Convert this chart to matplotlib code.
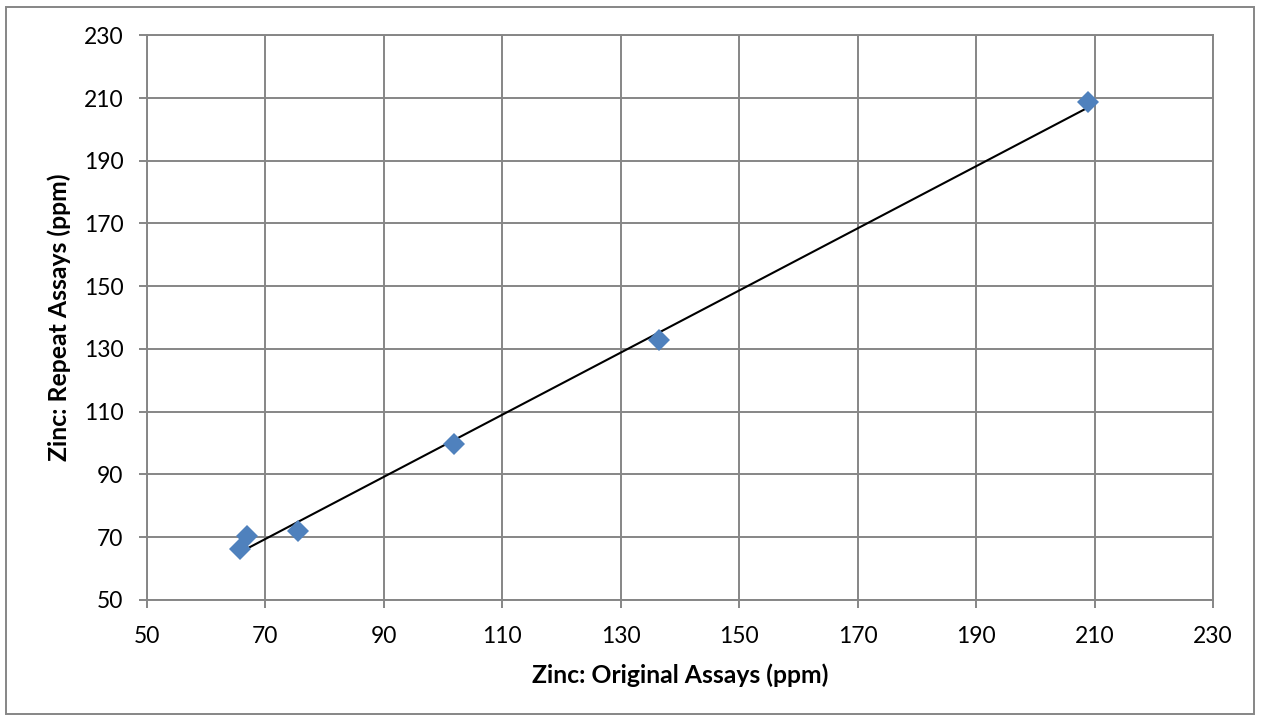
import numpy as np
import matplotlib
matplotlib.use("Agg")
import matplotlib.pyplot as plt
from matplotlib.patches import Rectangle

# Data
original_ppm = [65.7, 67.0, 75.6, 101.9, 136.4, 208.9]
repeat_ppm = [66.2, 70.3, 71.9, 99.6, 132.7, 208.7]
tick_values = [50, 70, 90, 110, 130, 150, 170, 190, 210, 230]
x_label = "Zinc: Original Assays (ppm)"
y_label = "Zinc: Repeat Assays (ppm)"

plt.rcParams['font.family'] = ['Lato', 'DejaVu Sans']

fig = plt.figure(figsize=(12.61, 7.21), dpi=100)
ax = fig.add_axes([0.1163, 0.1682, 0.962 - 0.1163, 0.951 - 0.1682])

grid_c = '#868686'
ax.set_xlim(50, 230)
ax.set_ylim(50, 230)
ax.set_xticks(tick_values)
ax.set_yticks(tick_values)
ax.grid(True, color=grid_c, linewidth=1.4)
ax.set_axisbelow(True)
for s in ax.spines.values():
    s.set_color(grid_c)
    s.set_linewidth(1.4)
ax.tick_params(direction='out', length=5.8, width=1.4, color=grid_c,
               labelsize=16.5, pad=11)
ax.tick_params(axis='x', pad=13)

# Linear trendline from data
xs = np.array(original_ppm)
ys = np.array(repeat_ppm)
m, b = np.polyfit(xs, ys, 1)
xt = np.array([xs.min(), xs.max()])
ax.plot(xt, m * xt + b, color='black', linewidth=1.5, zorder=3)

ax.plot(original_ppm, repeat_ppm, linestyle='none', marker='D', markersize=11,
        color='#4F81BD', markeredgewidth=0, zorder=4)

ax.set_xlabel(x_label, fontsize=17.8, fontweight='bold', labelpad=12)
ax.set_ylabel(y_label, fontsize=17.8, fontweight='bold', labelpad=9)

# outer chart border
fig.patches.append(Rectangle((6 / 1261, 7 / 721), 1248 / 1261, 707 / 721,
                             transform=fig.transFigure, fill=False,
                             edgecolor='#868686', linewidth=1.4))

fig.savefig('out.png', dpi=100)
